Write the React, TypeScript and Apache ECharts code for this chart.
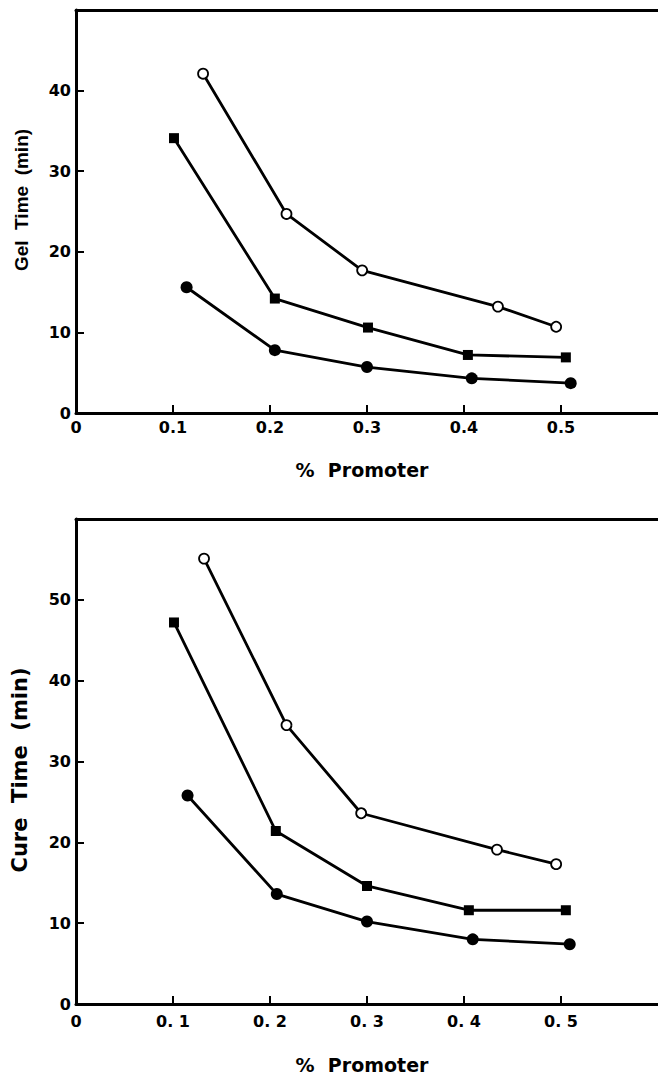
import React, { useEffect, useRef } from "react";
import * as echarts from "echarts";

// Gel time (top panel)
const gelOpenX = [0.131, 0.217, 0.295, 0.435, 0.495];
const gelOpenY = [42.1, 24.7, 17.7, 13.2, 10.7];
const gelSquareX = [0.101, 0.205, 0.301, 0.404, 0.505];
const gelSquareY = [34.1, 14.2, 10.6, 7.2, 6.9];
const gelFilledX = [0.114, 0.205, 0.3, 0.408, 0.51];
const gelFilledY = [15.6, 7.8, 5.7, 4.3, 3.7];

// Cure time (bottom panel)
const cureOpenX = [0.132, 0.217, 0.294, 0.434, 0.495];
const cureOpenY = [55.1, 34.5, 23.6, 19.1, 17.3];
const cureSquareX = [0.101, 0.206, 0.3, 0.405, 0.505];
const cureSquareY = [47.2, 21.4, 14.6, 11.6, 11.6];
const cureFilledX = [0.115, 0.207, 0.3, 0.409, 0.509];
const cureFilledY = [25.8, 13.6, 10.2, 8.0, 7.4];

const xTicks = [0, 0.1, 0.2, 0.3, 0.4, 0.5, 0.6];
const topXLabels = ["0", "0.1", "0.2", "0.3", "0.4", "0.5", ""];
const bottomXLabels = ["0", "0. 1", "0. 2", "0. 3", "0. 4", "0. 5", ""];
const topYLabels = ["0", "10", "20", "30", "40", ""];
const bottomYLabels = ["0", "10", "20", "30", "40", "50", ""];

const zip = (xs: number[], ys: number[]) => xs.map((x, i) => [x, ys[i]]);

export default function App() {
  const ref = useRef<HTMLDivElement>(null);
  useEffect(() => {
    const chart = echarts.init(ref.current!, null, { renderer: "svg" });
    const FONT = "DejaVu Sans";
    const axisLabelStyle = { color: "#000", fontFamily: FONT, fontWeight: "bold" as const, fontSize: 16 };
    const mkX = (gridIndex: number, labels: string[], margin: number) => ({
      type: "value",
      gridIndex,
      min: 0,
      max: 0.6,
      interval: 0.1,
      axisLine: { show: true, lineStyle: { color: "#000", width: 3 } },
      axisTick: { show: true, inside: true, length: 8, lineStyle: { color: "#000", width: 2 } },
      splitLine: { show: false },
      axisLabel: {
        ...axisLabelStyle,
        margin,
        showMaxLabel: false,
        formatter: (v: number) => {
          const i = xTicks.findIndex((t) => Math.abs(t - v) < 1e-6);
          return i >= 0 ? labels[i] : "";
        },
      },
    });
    const mkTop = (gridIndex: number) => ({
      type: "value",
      gridIndex,
      position: "top",
      min: 0,
      max: 0.6,
      interval: 0.1,
      axisLine: { show: true, lineStyle: { color: "#000", width: 3 } },
      axisTick: { show: false },
      axisLabel: { show: false },
      splitLine: { show: false },
    });
    const mkY = (gridIndex: number, max: number, labels: string[]) => ({
      type: "value",
      gridIndex,
      min: 0,
      max,
      interval: 10,
      axisLine: { show: true, lineStyle: { color: "#000", width: 3 } },
      axisTick: { show: true, inside: true, length: 8, lineStyle: { color: "#000", width: 2 } },
      splitLine: { show: false },
      axisLabel: {
        ...axisLabelStyle,
        margin: 5,
        formatter: (v: number) => labels[Math.round(v / 10)] ?? "",
      },
    });
    const lineBase = {
      type: "line",
      lineStyle: { color: "#000", width: 2.8 },
      itemStyle: { color: "#000" },
      emphasis: { disabled: true },
    };
    const openS = (xi: number, data: number[][]) => ({
      ...lineBase,
      xAxisIndex: xi,
      yAxisIndex: xi,
      data,
      symbol: "circle",
      symbolSize: 10,
      itemStyle: { color: "#fff", borderColor: "#000", borderWidth: 1.8 },
      z: 3,
    });
    const squareS = (xi: number, data: number[][]) => ({
      ...lineBase,
      xAxisIndex: xi,
      yAxisIndex: xi,
      data,
      symbol: "rect",
      symbolSize: 10,
      z: 3,
    });
    const filledS = (xi: number, data: number[][]) => ({
      ...lineBase,
      xAxisIndex: xi,
      yAxisIndex: xi,
      data,
      symbol: "circle",
      symbolSize: 12,
      z: 3,
    });
    const promoFont = `bold 19px "${FONT}"`;
    chart.setOption({
      animation: false,
      backgroundColor: "#fff",
      grid: [
        { left: 76, top: 10, width: 588, height: 403 },
        { left: 76, top: 519, width: 588, height: 485 },
      ],
      xAxis: [mkX(0, topXLabels, 6), mkX(1, bottomXLabels, 9), mkTop(0), mkTop(1)],
      yAxis: [mkY(0, 50, topYLabels), mkY(1, 60, bottomYLabels)],
      series: [
        openS(0, zip(gelOpenX, gelOpenY)),
        squareS(0, zip(gelSquareX, gelSquareY)),
        filledS(0, zip(gelFilledX, gelFilledY)),
        openS(1, zip(cureOpenX, cureOpenY)),
        squareS(1, zip(cureSquareX, cureSquareY)),
        filledS(1, zip(cureFilledX, cureFilledY)),
      ],
      graphic: [
        {
          type: "text",
          x: 21,
          y: 200,
          rotation: Math.PI / 2,
          style: { text: "Gel  Time  (min)", font: `bold 19px "Liberation Sans"`, fill: "#000", align: "center", verticalAlign: "middle" },
        },
        {
          type: "text",
          x: 362,
          y: 470,
          style: { text: "%  Promoter", font: promoFont, fill: "#000", align: "center", verticalAlign: "middle" },
        },
        {
          type: "text",
          x: 20,
          y: 770,
          rotation: Math.PI / 2,
          style: { text: "Cure  Time  (min)", font: `bold 21px "DejaVu Sans"`, fill: "#000", align: "center", verticalAlign: "middle" },
        },
        {
          type: "text",
          x: 362,
          y: 1065,
          style: { text: "%  Promoter", font: promoFont, fill: "#000", align: "center", verticalAlign: "middle" },
        },
      ],
    });
    return () => chart.dispose();
  }, []);
  return <div ref={ref} style={{ position: "absolute", left: 0, top: 0, width: 658, height: 1078 }} />;
}
